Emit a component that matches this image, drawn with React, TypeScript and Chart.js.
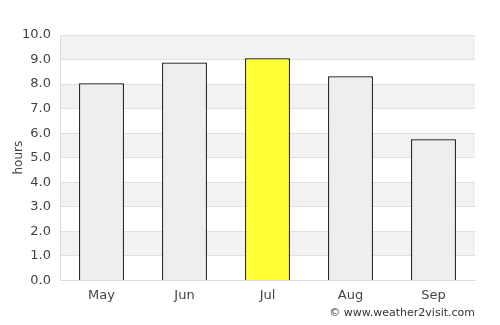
import React, { useEffect, useRef } from "react";
import { Chart, registerables } from "chart.js";

Chart.register(...registerables);

const months = ["May", "Jun", "Jul", "Aug", "Sep"];
const sunHours = [8.03, 8.88, 9.05, 8.32, 5.75];
const barColors = ["#eeeeee", "#eeeeee", "#ffff33", "#eeeeee", "#eeeeee"];
const yAxisTitle = "hours";
const credit = "© www.weather2visit.com";

const bandsPlugin = {
  id: "bands",
  beforeDraw(chart: any) {
    const { ctx, chartArea, scales } = chart;
    const y = scales.y;
    ctx.save();
    ctx.fillStyle = "#f2f2f2";
    for (let v = 1; v < 10; v += 2) {
      const top = y.getPixelForValue(v + 1);
      const bot = y.getPixelForValue(v);
      ctx.fillRect(chartArea.left, top, chartArea.right - chartArea.left, bot - top);
    }
    ctx.restore();
  },
  afterDraw(chart: any) {
    const { ctx, chartArea } = chart;
    ctx.save();
    ctx.font = "11px 'DejaVu Sans'";
    ctx.fillStyle = "#333333";
    ctx.textAlign = "right";
    ctx.textBaseline = "middle";
    ctx.fillText(credit, chartArea.right, 313);
    ctx.restore();
  },
};

export default function App() {
  const ref = useRef<HTMLCanvasElement>(null);
  useEffect(() => {
    document.body.style.margin = "0";
    const chart = new Chart(ref.current!, {
      type: "bar",
      data: {
        labels: months,
        datasets: [
          {
            data: sunHours,
            backgroundColor: barColors,
            borderColor: "#000000",
            borderWidth: 1.2,
            barPercentage: 0.54,
            categoryPercentage: 1,
          },
        ],
      },
      options: {
        responsive: false,
        animation: false,
        layout: { padding: { top: 35, right: 25, bottom: 15, left: 0 } },
        plugins: { legend: { display: false }, tooltip: { enabled: false } },
        scales: {
          x: {
            grid: { display: false, drawTicks: false },
            border: { color: "#dddddd" },
            ticks: { color: "#444444", font: { family: "DejaVu Sans", size: 13 }, padding: 7 },
          },
          y: {
            min: 0,
            max: 10,
            afterFit: (s: any) => {
              s.width = 60;
            },
            grid: { color: "#e0e0e0", drawTicks: false },
            border: { color: "#dddddd" },
            ticks: {
              stepSize: 1,
              color: "#444444",
              padding: 9,
              font: { family: "DejaVu Sans", size: 13 },
              callback: (v: any) => Number(v).toFixed(1),
            },
            title: {
              display: true,
              text: yAxisTitle,
              color: "#444444",
              font: { family: "DejaVu Sans", size: 12 },
              padding: { top: 12, bottom: 0 },
            },
          },
        },
      },
      plugins: [bandsPlugin],
    });
    return () => chart.destroy();
  }, []);
  return (
    <div style={{ width: 500, height: 325 }}>
      <canvas ref={ref} width={500} height={325} />
    </div>
  );
}
